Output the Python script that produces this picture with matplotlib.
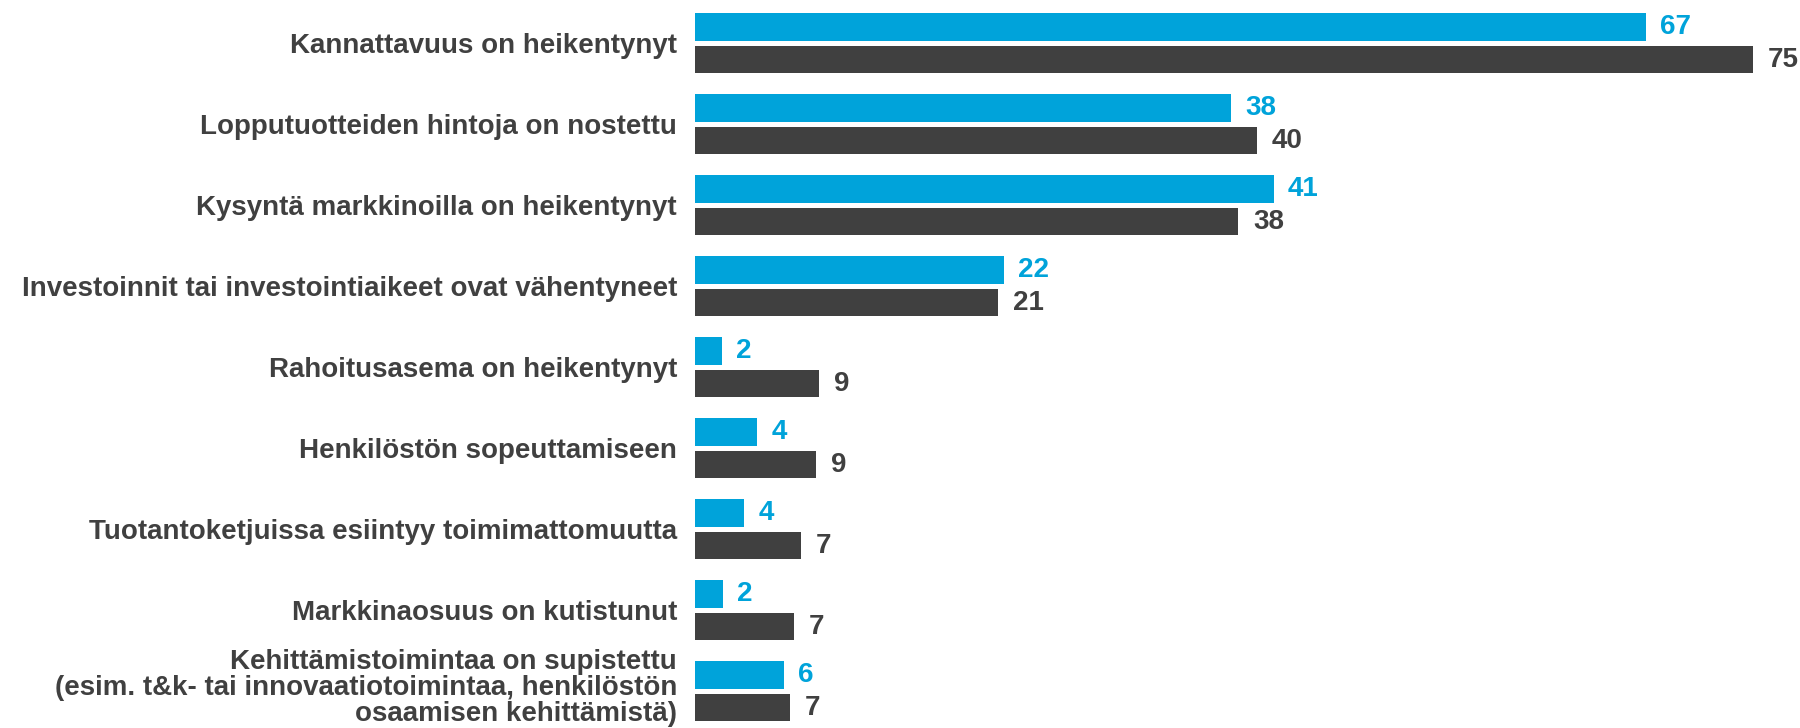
import matplotlib.pyplot as plt
import numpy as np

categories = [
    "Kannattavuus on heikentynyt",
    "Lopputuotteiden hintoja on nostettu",
    "Kysyntä markkinoilla on heikentynyt",
    "Investoinnit tai investointiaikeet ovat vähentyneet",
    "Rahoitusasema on heikentynyt",
    "Henkilöstön sopeuttamiseen",
    "Tuotantoketjuissa esiintyy toimimattomuutta",
    "Markkinaosuus on kutistunut",
    "Kehittämistoimintaa on supistettu\n(esim. t&k- tai innovaatiotoimintaa, henkilöstön\nosaamisen kehittämistä)",
]
# bar lengths and the printed rounded values
blue_vals = [67.4, 38.0, 41.0, 21.9, 1.9, 4.4, 3.5, 2.0, 6.3]
dark_vals = [75.0, 39.8, 38.5, 21.5, 8.8, 8.6, 7.5, 7.0, 6.7]
blue_labels = ["67", "38", "41", "22", "2", "4", "4", "2", "6"]
dark_labels = ["75", "40", "38", "21", "9", "9", "7", "7", "7"]

BLUE = "#00a3da"
DARK = "#404040"

plt.rcParams["font.family"] = ["Liberation Sans", "DejaVu Sans"]

fig = plt.figure(figsize=(18, 7.28), dpi=100)
ax = fig.add_axes([695 / 1800, 0, 1100.6 / 1800, 1])

y = np.arange(len(categories))
h = 0.337
ax.barh(y - 0.2, blue_vals, height=h, color=BLUE)
ax.barh(y + 0.2, dark_vals, height=h, color=DARK)

for i in range(len(categories)):
    ax.text(blue_vals[i] + 1.0, y[i] - 0.2, blue_labels[i], color=BLUE,
            fontsize=20, fontweight="bold", va="center", ha="left")
    ax.text(dark_vals[i] + 1.05, y[i] + 0.2, dark_labels[i], color=DARK,
            fontsize=20, fontweight="bold", va="center", ha="left")

    # category names on the left
    multi = "\n" in categories[i]
    ax.annotate(categories[i], xy=(0, y[i]), xycoords=("axes fraction", "data"),
                xytext=(-13, 2.5 if multi else 0), textcoords="offset points",
                ha="right", va="center" if multi else "center_baseline",
                fontsize=20, fontweight="bold", color=DARK,
                linespacing=1.0, annotation_clip=False)

ax.set_yticks([])
ax.set_xticks([])
ax.set_xlim(0, 78)
ax.set_ylim(8.453, -0.535)
for s in ax.spines.values():
    s.set_visible(False)

fig.savefig("out.png", dpi=100)
